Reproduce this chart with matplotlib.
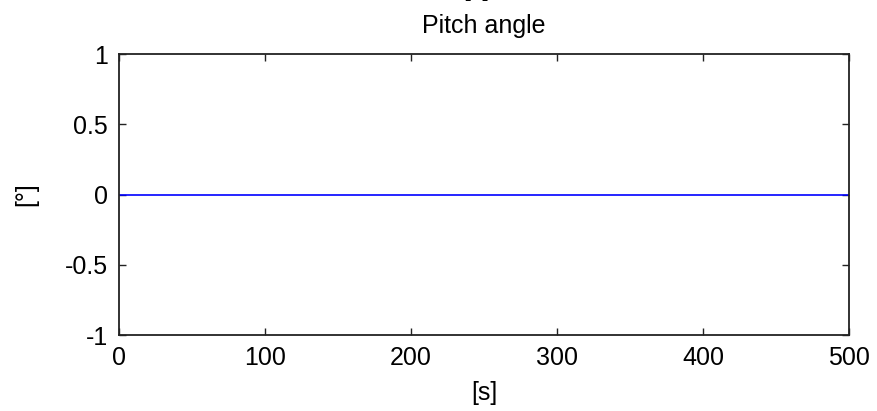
import numpy as np
import matplotlib.pyplot as plt

plt.rcParams['font.family'] = ['Liberation Sans', 'DejaVu Sans']

# simulation time and pitch angle
t = [0, 500]
pitch = [0, 0]
xticks = [0, 100, 200, 300, 400, 500]
yticks = [-1, -0.5, 0, 0.5, 1]

fig = plt.figure(figsize=(8.77, 4.11), dpi=100)
ax = fig.add_axes([0.1357, 0.1849, 0.8323, 0.6837])

ax.plot(t, pitch, color='#0000ff', linewidth=1.2)
ax.set_xlim(0, 500)
ax.set_ylim(-1, 1)
ax.set_xticks(xticks)
ax.set_yticks(yticks)
ax.set_yticklabels(['-1', '-0.5', '0', '0.5', '1'])
ax.tick_params(direction='in', top=True, right=True, length=5, width=1,
               labelsize=18, color='#222222', pad=8)
for s in ax.spines.values():
    s.set_linewidth(1.3)
    s.set_color('#222222')

ax.set_title('Pitch angle', fontsize=18, pad=15)
ax.set_xlabel('[s]', fontsize=18, labelpad=8)
ax.set_ylabel('[°]', fontsize=18, labelpad=19)

# xlabel of the plot above, mostly cut off by the figure edge
fig.text(0.543, 1 - 1 / 411, '[s]', fontsize=18, ha='center', va='bottom')

fig.savefig('out.png', dpi=100)
